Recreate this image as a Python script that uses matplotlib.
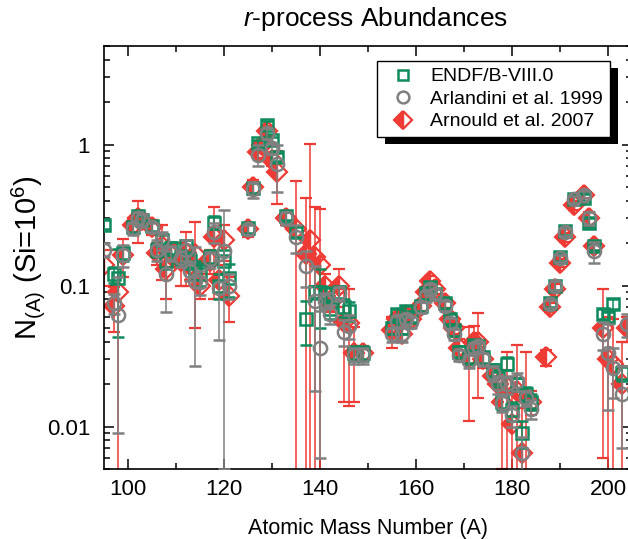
import matplotlib
matplotlib.use("Agg")
import matplotlib.pyplot as plt
from matplotlib.patches import Rectangle
from matplotlib.lines import Line2D
import numpy as np

plt.rcParams['font.family'] = ['Liberation Sans', 'DejaVu Sans']
plt.rcParams['mathtext.fontset'] = 'custom'
plt.rcParams['mathtext.rm'] = 'Liberation Sans'
plt.rcParams['mathtext.it'] = 'Liberation Sans:italic'

nan = np.nan

# mass numbers
mass = [95, 97, 98, 99, 101, 102, 103, 105, 106, 107, 108, 109, 111, 112, 113, 114,
        115, 117, 118, 119, 120, 121, 125, 126, 127, 128, 129, 130, 131, 133, 135, 137,
        138, 139, 140, 141, 142, 144, 145, 146, 147, 149, 155, 156, 157, 158, 159, 161,
        162, 163, 164, 166, 167, 168, 169, 171, 172, 173, 174, 176, 177, 178, 179, 180,
        181, 182, 183, 184, 187, 188, 189, 190, 191, 193, 195, 196, 197, 199, 200, 201,
        203, 204]

# ENDF/B-VIII.0
endf = [.27, .12, .113, .17, .26, .31, .29, .265, .18, .21, .15, .185, .16, .19, .15, .13,
        .12, .16, .28, .10, .15, .113, .254, .49, 1.02, nan, 1.38, 1.08, .82, .31, .24, .058,
        nan, .09, .09, .087, .068, .09, .07, .066, .033, .033, .05, .063, .05, .066, .06, .072,
        .088, .098, .087, .075, .058, .048, .034, .031, .038, .037, .031, .025, .022, .015, .028, .013,
        .02, .009, .017, .015, nan, .075, .10, .16, .245, .41, .42, .28, .19, .063, .06, .074,
        .024, nan]
endf_err = [.02, .015, .07, .02, .02, .03, .02, .02, .02, .02, .02, .02, .02, .02, .02, .02,
            .02, .02, .03, .02, .03, .03, .02, .04, .06, nan, .08, .06, .05, .02, .02, .02,
            nan, .01, .04, .01, .01, .01, .01, .01, .004, .004, .005, .005, .005, .006, .005, .006,
            .008, .008, .007, .006, .005, .004, .003, .003, .003, .003, .003, .003, .003, .002, .003, .002,
            .002, .002, .002, .002, nan, .005, .007, .01, .015, .025, .025, .02, .01, .005, .005, .006,
            .003, nan]

# Arlandini et al. 1999
arl = [.18, .075, .062, .165, .255, .30, .29, .26, .18, .21, .12, .17, .156, .18, .127, .107,
       .106, .154, .24, .096, .175, .10, .25, .48, .85, nan, 1.2, .94, .73, .30, .22, .137,
       nan, .078, .036, .078, .063, .088, .047, .052, .032, .032, .045, .056, .045, .058, .055, .07,
       .084, .094, .087, .072, .054, .045, .032, .029, .036, .037, .03, .024, .02, .0146, .02, .012,
       .021, .0065, .016, .0134, nan, .074, .10, .156, .24, .41, .44, .30, .175, .045, .033, .026,
       .017, .053]
arl_err = [.02, .012, .053, .03, .025, .03, .03, .02, .03, .03, .055, .02, .02, .03, .02, .08,
           .02, .02, .04, .055, .17, .02, .02, .06, .15, nan, .1, .08, .27, .03, .05, .04,
           nan, .06, .03, .01, .01, .01, .01, .01, .004, .004, .005, .005, .005, .005, .005, .006,
           .007, .008, .007, .006, .005, .004, .003, .003, .003, .003, .003, .003, .003, .002, .003, .002,
           .003, .002, .002, .002, nan, .005, .007, .01, .015, .025, .025, .03, .03, .01, .02, .01,
           .01, .01]

# Arnould et al. 2007
arn = [.14, .072, .09, .165, .27, .30, .29, .26, .17, .19, .13, .165, .15, .17, .14, .167,
       .10, .15, .22, .11, .21, .085, .25, .50, .88, 1.0, 1.25, .78, .64, .30, .25, .167,
       .21, .16, .14, .10, .075, .10, .055, .054, .033, .033, .048, .058, .045, .062, .058, .072,
       .09, .107, .095, .075, .058, .05, .036, .031, .04, .04, .03, .023, .02, .015, .019, .0105,
       .018, .0065, .016, .015, .031, .07, .095, .145, .22, .37, .44, .30, .19, .05, .03, .028,
       .02, .05]
arn_err = [.04, .025, .09, .05, .03, .10, .03, .03, .03, .08, .05, .03, .05, .07, .03, .117,
           .02, .03, .14, .03, .06, .03, .03, .06, .08, .08, .1, .08, .26, .03, .3, .25,
           .8, .2, .21, .02, .01, .03, .04, .04, .018, .004, .012, .006, .005, .006, .005, .006,
           .008, .01, .008, .006, .006, .005, .006, .02, .012, .024, .004, .003, .005, .01, .015, .012,
           .02, .007, .018, .003, .004, .005, .007, .01, .015, .025, .025, .03, .015, .044, .03, .03,
           .02, .01]

labels = ['ENDF/B-VIII.0', 'Arlandini et al. 1999', 'Arnould et al. 2007']

green = '#0e8a5c'
grey = '#808080'
red = '#ef3b36'

fig = plt.figure(figsize=(6.28, 5.39), dpi=100)
ax = fig.add_axes([104/628, 1-469/539, 528/628, 423/539])
ax.set_yscale('log')

ax.errorbar(mass, arn, yerr=arn_err, fmt='D', color=red, ms=10, mec=red, mfc=red,
            fillstyle='left', markerfacecoloralt='none', mew=1.6,
            elinewidth=1.1, capsize=4.5, capthick=1.1, zorder=2)
ax.errorbar(mass, endf, yerr=endf_err, fmt='s', color=green, ms=8, mfc='none',
            mew=1.8, elinewidth=1.1, capsize=4.5, capthick=1.1, zorder=3)
ax.errorbar(mass, arl, yerr=arl_err, fmt='o', color=grey, ms=9.5, mfc='none',
            mew=1.8, elinewidth=1.1, capsize=4.5, capthick=1.1, zorder=4)

ax.set_xlim(95, 205)
ax.set_ylim(0.005, 5)
ax.set_xticks([100, 120, 140, 160, 180, 200])
ax.set_xticks(np.arange(100, 205, 10), minor=True)
ax.set_yticks([0.01, 0.1, 1])
ax.set_yticklabels(['0.01', '0.1', '1'])
ax.tick_params(which='both', direction='in', top=True, right=True, labelsize=16, width=1.1)
ax.tick_params(which='major', length=7)
ax.tick_params(axis='x', which='major', pad=7)
ax.tick_params(axis='y', which='major', pad=10)
ax.tick_params(which='minor', length=4)
for s in ax.spines.values():
    s.set_linewidth(1.2)

ax.set_xlabel('Atomic Mass Number (A)', fontsize=15.5, labelpad=13)
ax.set_ylabel(r'N$_{\mathregular{(A)}}$ (Si=10$^{\mathregular{6}}$)', fontsize=21)
ax.yaxis.set_label_coords(-0.108, 0.5)
fig.text(0.598, 1-19/539, r'$\mathit{r}$-process Abundances', fontsize=19, ha='center', va='center')

handles = [
    Line2D([], [], ls='none', marker='s', ms=7, mec=green, mfc='none', mew=1.8),
    Line2D([], [], ls='none', marker='o', ms=8.5, mec=grey, mfc='none', mew=1.8),
    Line2D([], [], ls='none', marker='D', ms=9, mec=red, mfc=red, fillstyle='left',
           markerfacecoloralt='none', mew=1.6),
]
leg = ax.legend(handles, labels,
                loc='upper left', bbox_to_anchor=(377/628, 1-61/539), bbox_transform=fig.transFigure,
                fontsize=14, fancybox=False, edgecolor='black', framealpha=1, borderaxespad=0,
                handletextpad=0.4, labelspacing=0.25, borderpad=0.35, handlelength=2.0)
leg.get_frame().set_linewidth(1.0)

fig.canvas.draw()
bb = leg.get_window_extent()
shadow = Rectangle((bb.x0 + 8, bb.y0 - 7), bb.width, bb.height, transform=None,
                   facecolor='black', edgecolor='none', zorder=4.9, clip_on=False)
ax.add_artist(shadow)

fig.savefig('out.png', dpi=100)
